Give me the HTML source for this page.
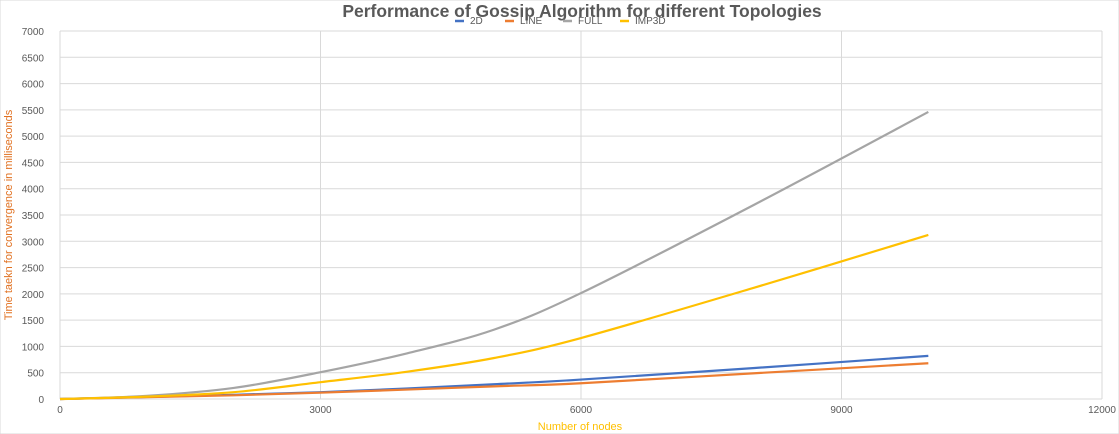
<!DOCTYPE html>
<html><head><meta charset="utf-8"><style>
html,body{margin:0;padding:0;background:#fff;}
svg{display:block;font-family:"Liberation Sans",sans-serif;}
</style></head><body>
<svg id="chart" width="1119" height="434" viewBox="0 0 1119 434">
<rect x="0" y="0" width="1119" height="434" fill="#fff" stroke="#d9d9d9"/>
<g id="grid"></g><g id="axes"></g><g id="series"></g>
<text x="582" y="17" text-anchor="middle" font-size="17.5" font-weight="bold" fill="#595959">Performance of Gossip Algorithm for different Topologies</text>
<g id="legend"></g>
<text x="580" y="430" text-anchor="middle" font-size="11" fill="#ffc000">Number of nodes</text>
<text transform="translate(12,215) rotate(-90)" text-anchor="middle" font-size="11" fill="#e07020">Time taekn for convergence in milliseconds</text>
</svg>
<script>
const xValues=[0,1000,2000,3000,4000,5000,6000,8000,10000];
const series2D=[0,40,80,130,200,280,370,590,820];
const seriesLINE=[0,35,70,120,180,240,300,490,680];
const seriesFULL=[0,60,210,510,870,1320,2015,3700,5460];
const seriesIMP3D=[0,45,130,320,520,780,1160,2120,3120];
const xTicks=[0,3000,6000,9000,12000];
const yTicks=[0,500,1000,1500,2000,2500,3000,3500,4000,4500,5000,5500,6000,6500,7000];
const X0=60,X1=1102,Y0=399,Y1=31;
const sx=v=>X0+(X1-X0)*v/12000, sy=v=>Y0-(Y0-Y1)*v/7000;
const NS="http://www.w3.org/2000/svg";
function mk(t,a,p){const e=document.createElementNS(NS,t);for(const k in a)e.setAttribute(k,a[k]);p.appendChild(e);return e;}
const grid=document.getElementById('grid'),axes=document.getElementById('axes');
yTicks.forEach(v=>{
 const l=mk('line',{x1:X0,x2:X1,y1:sy(v),y2:sy(v),stroke:'#d9d9d9','stroke-width':1},grid);
 
 
 const t=mk('text',{x:X0-16,y:sy(v)+4,'text-anchor':'end','font-size':10,fill:'#595959'},axes);t.textContent=v;
 
 
});
xTicks.forEach(v=>{
 const l=mk('line',{x1:sx(v),x2:sx(v),y1:Y1,y2:Y0,stroke:'#d9d9d9','stroke-width':1},grid);
 
 
 const t=mk('text',{x:sx(v),y:Y0+14,'text-anchor':'middle','font-size':10,fill:'#595959'},axes);t.textContent=v;
 
 
});
function path(vals){
 const p=xValues.map((x,i)=>[sx(x),sy(vals[i])]);let d='M'+p[0][0]+','+p[0][1];
 for(let i=0;i<p.length-1;i++){const a=p[i-1]||p[i],b=p[i],c=p[i+1],e=p[i+2]||c;
  d+=' C'+(b[0]+(c[0]-a[0])/6)+','+(b[1]+(c[1]-a[1])/6)+' '+(c[0]-(e[0]-b[0])/6)+','+(c[1]-(e[1]-b[1])/6)+' '+c[0]+','+c[1];}
 return d;}
const S=[['2D',series2D,'#4472c4'],['LINE',seriesLINE,'#ed7d31'],['FULL',seriesFULL,'#a5a5a5'],['IMP3D',seriesIMP3D,'#ffc000']];
const sg=document.getElementById('series'),lg=document.getElementById('legend');
const lx=[455,505,563,620];
S.forEach((s,i)=>{
 const p=mk('path',{d:path(s[1]),fill:'none',stroke:s[2],'stroke-width':2.2},sg);
 
 
 const g=mk('g',{},lg);
 
 
 mk('line',{x1:lx[i],x2:lx[i]+9,y1:21,y2:21,stroke:s[2],'stroke-width':2.5},g);
 const t=mk('text',{x:lx[i]+15,y:24,'font-size':10,fill:'#595959'},g);t.textContent=s[0];
});
</script>
</body></html>
